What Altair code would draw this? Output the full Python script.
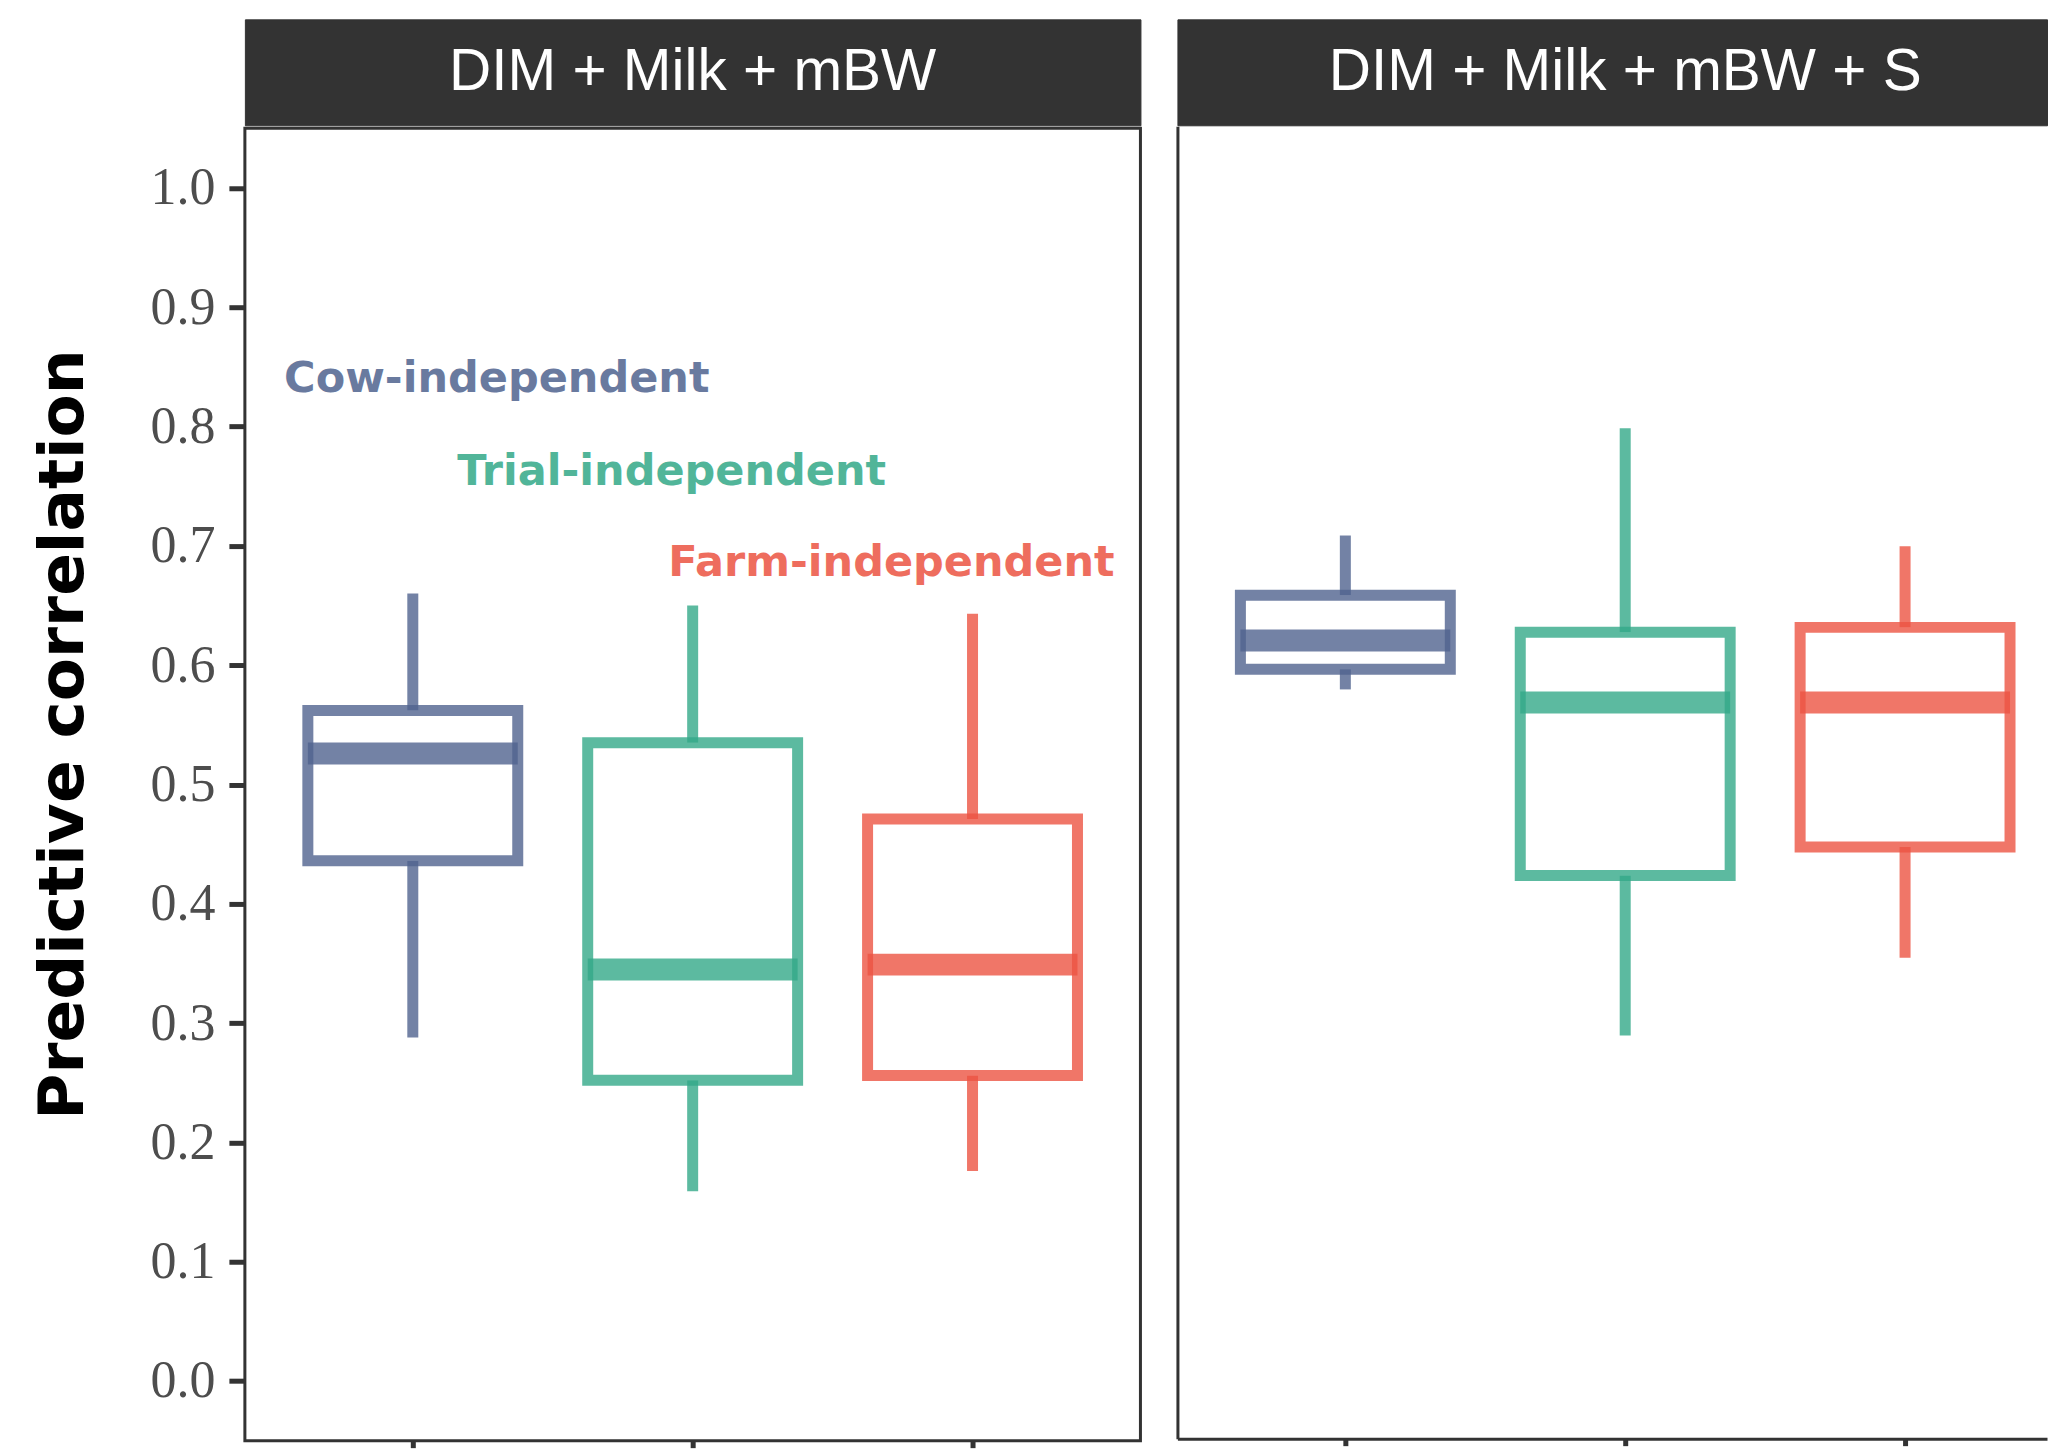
import altair as alt
import pandas as pd

# ---- data ----
categories = ["Cow-independent", "Trial-independent", "Farm-independent"]
positions = [1, 2, 3]
colors = ["#50638F", "#33A988", "#EC5442"]
panels = ["DIM + Milk + mBW", "DIM + Milk + mBW + S"]

p1_lo = [0.288, 0.159, 0.176]
p1_q1 = [0.436, 0.252, 0.256]
p1_med = [0.526, 0.345, 0.349]
p1_q3 = [0.562, 0.535, 0.471]
p1_hi = [0.660, 0.650, 0.643]

p2_lo = [0.578, 0.288, 0.353]
p2_q1 = [0.595, 0.422, 0.446]
p2_med = [0.619, 0.567, 0.567]
p2_q3 = [0.657, 0.626, 0.630]
p2_hi = [0.707, 0.797, 0.698]

ann_x = [1.30, 1.925, 2.71]
ann_y = [0.840, 0.762, 0.686]

y_ticks = [0.0, 0.1, 0.2, 0.3, 0.4, 0.5, 0.6, 0.7, 0.8, 0.9, 1.0]

BOX_WIDTH = 0.75
PLOT_W = 896          # full panel width
RIGHT_W = 870         # visible part of the right panel (cut at the page edge)
PLOT_H = 1313
STRIP_H = 106
X_DOMAIN = [0.4, 3.6]

panel_stats = [
    (p1_lo, p1_q1, p1_med, p1_q3, p1_hi),
    (p2_lo, p2_q1, p2_med, p2_q3, p2_hi),
]


def panel_chart(idx, first):
    lo, q1, med, q3, hi = panel_stats[idx]
    df = pd.DataFrame({
        "cat": categories,
        "pos": positions,
        "left": [p - BOX_WIDTH / 2 for p in positions],
        "right": [p + BOX_WIDTH / 2 for p in positions],
        "lo": lo, "q1": q1, "med": med, "q3": q3, "hi": hi,
    })
    width = PLOT_W if first else RIGHT_W
    span = X_DOMAIN[1] - X_DOMAIN[0]
    xdom = [X_DOMAIN[0], X_DOMAIN[0] + span * width / PLOT_W]
    xscale = alt.Scale(domain=xdom, nice=False, zero=False)
    yscale = alt.Scale(domain=[-0.05, 1.05], nice=False, zero=False)
    cscale = alt.Scale(domain=categories, range=colors)
    xaxis = alt.Axis(values=positions, labels=False, domain=not first,
                     domainColor="#333333", domainWidth=3, grid=False,
                     ticks=True, tickSize=7, tickWidth=5, tickColor="#333333",
                     title=None)
    if first:
        yaxis = alt.Axis(values=y_ticks, format=".1f", grid=False, domain=False,
                         labelFont="Liberation Serif", labelFontSize=52,
                         labelColor="#4D4D4D", labelPadding=14,
                         tickSize=16, tickWidth=5, tickColor="#333333",
                         title="Predictive correlation", titleFont="DejaVu Sans",
                         titleFontSize=63, titleFontWeight="bold", titleColor="black",
                         titleAngle=270, titleX=-162, titleY=606,
                         titleBaseline="alphabetic", titleAlign="center")
    else:
        yaxis = alt.Axis(labels=False, ticks=False, grid=False, domain=True,
                         domainColor="#333333", domainWidth=3, title=None)

    base = alt.Chart(df)
    whisk_hi = base.mark_rule(strokeWidth=11, opacity=0.8, strokeCap="butt").encode(
        x=alt.X("pos:Q", scale=xscale, axis=xaxis),
        y=alt.Y("q3:Q", scale=yscale, axis=yaxis),
        y2="hi:Q",
        color=alt.Color("cat:N", scale=cscale, legend=None),
    )
    whisk_lo = base.mark_rule(strokeWidth=11, opacity=0.8, strokeCap="butt").encode(
        x=alt.X("pos:Q", scale=xscale),
        y=alt.Y("lo:Q", scale=yscale),
        y2="q1:Q",
        color=alt.Color("cat:N", scale=cscale, legend=None),
    )
    box = base.mark_rect(fill="white", fillOpacity=1, strokeWidth=11,
                         strokeOpacity=0.8).encode(
        x=alt.X("left:Q", scale=xscale),
        x2="right:Q",
        y=alt.Y("q1:Q", scale=yscale),
        y2="q3:Q",
        stroke=alt.Stroke("cat:N", scale=cscale, legend=None),
    )
    median = base.mark_rule(strokeWidth=22, opacity=0.8, strokeCap="butt").encode(
        x=alt.X("left:Q", scale=xscale),
        x2="right:Q",
        y=alt.Y("med:Q", scale=yscale),
        color=alt.Color("cat:N", scale=cscale, legend=None),
    )
    layers = [whisk_hi, whisk_lo, box, median]
    if first:
        ann = pd.DataFrame({"cat": categories, "ax": ann_x, "ay": ann_y})
        text = alt.Chart(ann).mark_text(font="DejaVu Sans", fontWeight="bold",
                                        fontSize=43, align="center",
                                        baseline="middle", opacity=0.85).encode(
            x=alt.X("ax:Q", scale=xscale),
            y=alt.Y("ay:Q", scale=yscale),
            text="cat:N",
            color=alt.Color("cat:N", scale=cscale, legend=None),
        )
        layers.append(text)
    view = (alt.ViewBackground(stroke="#333333", strokeWidth=3) if first
            else alt.ViewBackground(stroke="transparent", strokeWidth=0))
    plot = alt.layer(*layers).properties(width=width, height=PLOT_H, view=view)

    strip = alt.Chart(pd.DataFrame({"label": [panels[idx]], "mid": [2]})).mark_text(
        color="white", font="Liberation Sans", fontSize=58.5,
        align="center", baseline="middle").encode(
        x=alt.X("mid:Q", scale=xscale, axis=None),
        text="label:N",
    ).properties(width=width, height=STRIP_H,
                 view=alt.ViewBackground(fill="#333333", stroke="#333333",
                                         strokeWidth=1))
    return alt.vconcat(strip, plot, spacing=0)


chart = alt.hconcat(panel_chart(0, True), panel_chart(1, False), spacing=34).properties(
    padding={"left": 23, "top": 10, "right": 0, "bottom": 0},
    background="white",
)

chart.save("out.html", embed_options={"renderer": "svg", "actions": False})
